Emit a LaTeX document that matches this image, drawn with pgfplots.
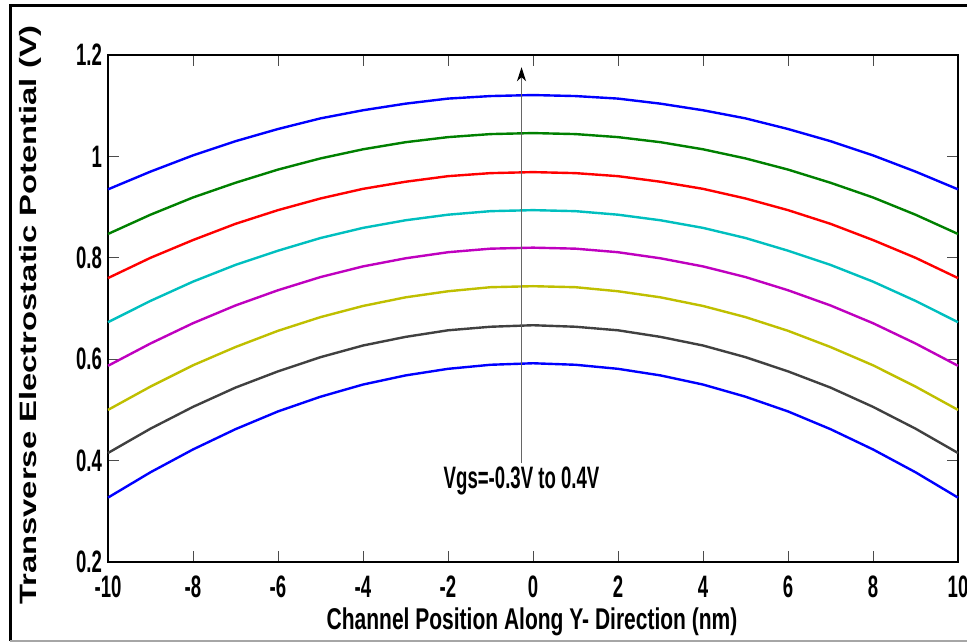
\documentclass[border=0pt]{standalone}
\usepackage{fontspec}
\setmainfont{Liberation Sans}
\newfontfamily\tickfont[FakeStretch=0.6]{Liberation Sans}
\newfontfamily\labfont[FakeStretch=0.7]{Liberation Sans}
\usepackage{pgfplots}
\pgfplotsset{compat=1.18}
\usetikzlibrary{arrows.meta}

\definecolor{mblue}{rgb}{0,0,1}
\definecolor{mgreen}{rgb}{0,0.5,0}
\definecolor{mred}{rgb}{1,0,0}
\definecolor{mcyan}{rgb}{0,0.75,0.75}
\definecolor{mmagenta}{rgb}{0.75,0,0.75}
\definecolor{myellow}{rgb}{0.75,0.75,0}
\definecolor{mgray}{rgb}{0.25,0.25,0.25}

\begin{document}
\begin{tikzpicture}
% page extent and outer frame
\path[use as bounding box] (0,0) rectangle (483.5pt,321pt);
\draw[line width=1.5pt] (5pt,0.5pt) -- (5pt,318pt) -- (483.5pt,318pt);
\draw[gray!70,line width=0.6pt] (5pt,0.5pt) -- (483.5pt,0.5pt);

\begin{axis}[
  at={(54pt,40pt)}, anchor=south west,
  scale only axis, width=425pt, height=253.5pt,
  xmin=-10, xmax=10, ymin=0.2, ymax=1.2,
  xtick={-10,-8,...,10}, ytick={0.2,0.4,...,1.2},
  tick align=inside, major tick length=5.5pt,
  xtick pos=both, ytick pos=both,
  tick style={black!70, line width=0.5pt},
  axis line style={line width=0.6pt},
  /pgf/number format/assume math mode=true,
  yticklabel style={/pgf/number format/.cd, fixed, precision=1, /tikz/.cd},
  ticklabel style={font=\tickfont\bfseries\fontsize{15.5pt}{15.5pt}\selectfont},
  xticklabel style={yshift=-3.5pt},
  yticklabel style={xshift=0.5pt},
  clip=false,
  every axis plot/.append style={line width=1.2pt, no markers},
]
% Vgs = 0.4 V
\addplot[mblue] coordinates {
(-10,0.935)(-9,0.970)(-8,1.002)(-7,1.030)(-6,1.054)(-5,1.075)(-4,1.091)(-3,1.104)(-2,1.114)(-1,1.119)(0,1.121)
(1,1.119)(2,1.114)(3,1.104)(4,1.091)(5,1.075)(6,1.054)(7,1.030)(8,1.002)(9,0.970)(10,0.935)};
% Vgs = 0.3 V
\addplot[mgreen] coordinates {
(-10,0.847)(-9,0.885)(-8,0.919)(-7,0.948)(-6,0.974)(-5,0.996)(-4,1.014)(-3,1.028)(-2,1.038)(-1,1.044)(0,1.046)
(1,1.044)(2,1.038)(3,1.028)(4,1.014)(5,0.996)(6,0.974)(7,0.948)(8,0.919)(9,0.885)(10,0.847)};
% Vgs = 0.2 V
\addplot[mred] coordinates {
(-10,0.760)(-9,0.800)(-8,0.835)(-7,0.867)(-6,0.894)(-5,0.917)(-4,0.936)(-3,0.950)(-2,0.961)(-1,0.967)(0,0.969)
(1,0.967)(2,0.961)(3,0.950)(4,0.936)(5,0.917)(6,0.894)(7,0.867)(8,0.835)(9,0.800)(10,0.760)};
% Vgs = 0.1 V
\addplot[mcyan] coordinates {
(-10,0.673)(-9,0.715)(-8,0.753)(-7,0.786)(-6,0.814)(-5,0.839)(-4,0.859)(-3,0.874)(-2,0.885)(-1,0.892)(0,0.894)
(1,0.892)(2,0.885)(3,0.874)(4,0.859)(5,0.839)(6,0.814)(7,0.786)(8,0.753)(9,0.715)(10,0.673)};
% Vgs = 0 V
\addplot[mmagenta] coordinates {
(-10,0.587)(-9,0.631)(-8,0.671)(-7,0.706)(-6,0.736)(-5,0.762)(-4,0.783)(-3,0.799)(-2,0.811)(-1,0.818)(0,0.820)
(1,0.818)(2,0.811)(3,0.799)(4,0.783)(5,0.762)(6,0.736)(7,0.706)(8,0.671)(9,0.631)(10,0.587)};
% Vgs = -0.1 V
\addplot[myellow] coordinates {
(-10,0.500)(-9,0.546)(-8,0.588)(-7,0.624)(-6,0.656)(-5,0.683)(-4,0.705)(-3,0.722)(-2,0.734)(-1,0.742)(0,0.744)
(1,0.742)(2,0.734)(3,0.722)(4,0.705)(5,0.683)(6,0.656)(7,0.624)(8,0.588)(9,0.546)(10,0.500)};
% Vgs = -0.2 V
\addplot[mgray] coordinates {
(-10,0.415)(-9,0.463)(-8,0.506)(-7,0.544)(-6,0.576)(-5,0.604)(-4,0.627)(-3,0.644)(-2,0.657)(-1,0.664)(0,0.667)
(1,0.664)(2,0.657)(3,0.644)(4,0.627)(5,0.604)(6,0.576)(7,0.544)(8,0.506)(9,0.463)(10,0.415)};
% Vgs = -0.3 V
\addplot[mblue] coordinates {
(-10,0.327)(-9,0.377)(-8,0.422)(-7,0.462)(-6,0.497)(-5,0.526)(-4,0.550)(-3,0.568)(-2,0.581)(-1,0.589)(0,0.592)
(1,0.589)(2,0.581)(3,0.568)(4,0.550)(5,0.526)(6,0.497)(7,0.462)(8,0.422)(9,0.377)(10,0.327)};

% sweep direction annotation
\draw[gray!80!black, line width=0.6pt, -{Stealth[black,length=7pt,width=4.5pt,inset=2pt]}]
  (axis cs:-0.27,0.395) -- (axis cs:-0.27,1.176);
\node[font=\tickfont\bfseries\fontsize{15.5pt}{15.5pt}\selectfont, anchor=center]
  at (axis cs:-0.27,0.36) {Vgs=-0.3V to 0.4V};
\end{axis}

% axis titles
\node[font=\labfont\bfseries\fontsize{15pt}{15pt}\selectfont, anchor=base]
  at (266pt,6.5pt) {Channel Position Along Y- Direction (nm)};
\node[rotate=90, anchor=center, inner sep=0pt]
  at (15pt,163.5pt) {\scalebox{1}[0.72]{\bfseries\fontsize{16.4pt}{16pt}\selectfont Transverse Electrostatic Potential (V)}};
\end{tikzpicture}
\end{document}
